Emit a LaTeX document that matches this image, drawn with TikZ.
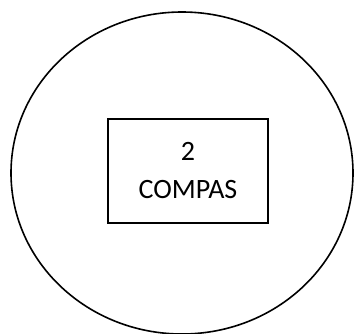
\documentclass[tikz,border=0pt]{standalone}
\usepackage{fontspec}
\setmainfont{Carlito}
\usetikzlibrary{shapes.geometric}
\begin{document}
\begin{tikzpicture}[x=1pt,y=-1pt,
  outer/.style={draw, ellipse, line width=1.6pt, minimum width=342pt, minimum height=322pt, inner sep=0pt},
  box/.style={draw, rectangle, line width=1.1pt, minimum width=160pt, minimum height=104pt, inner sep=0pt, align=center, font=\fontsize{28}{38}\selectfont}]
\useasboundingbox (0,0) rectangle (354,333);
\node[outer] (circ) at (182,173) {};
\node[box] (b) at (188,171) {2\\COMPAS};
\end{tikzpicture}
\end{document}
